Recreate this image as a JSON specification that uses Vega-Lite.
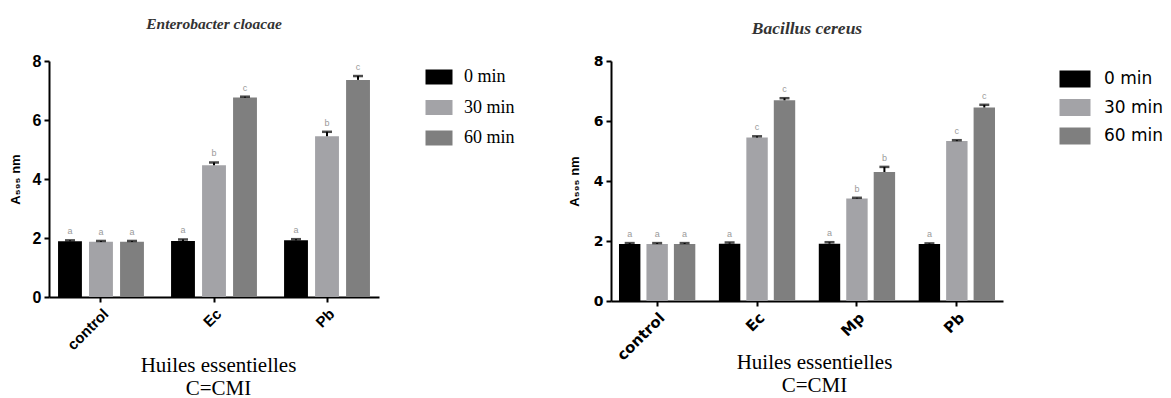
{
  "$schema": "https://vega.github.io/schema/vega-lite/v6.json",
  "background": "white",
  "padding": {"left": 9, "top": 17, "right": 0, "bottom": 0},
  "spacing": 53,
  "config": {
    "view": {"stroke": null},
    "axis": {"domainColor": "black", "domainWidth": 2, "tickColor": "black", "tickWidth": 2, "tickSize": 5, "grid": false, "labelColor": "black", "titleColor": "black"},
    "legend": {"padding": 0}
  },
  "resolve": {"scale": {"x": "independent", "y": "independent", "xOffset": "independent", "color": "independent"}, "legend": {"color": "independent"}},
  "hconcat": [
    {
      "width": 330,
      "height": 236,
      "title": {"text": "Enterobacter cloacae", "font": "Liberation Serif", "fontStyle": "italic", "fontWeight": "bold", "fontSize": 15.5, "color": "#333333", "offset": 20.5},
      "data": {"values": [
        {"oil": "control", "time": "0 min", "v": 1.89, "hi": 1.92, "lab": "a"},
        {"oil": "control", "time": "30 min", "v": 1.87, "hi": 1.9, "lab": "a"},
        {"oil": "control", "time": "60 min", "v": 1.87, "hi": 1.9, "lab": "a"},
        {"oil": "Ec", "time": "0 min", "v": 1.9, "hi": 1.95, "lab": "a"},
        {"oil": "Ec", "time": "30 min", "v": 4.47, "hi": 4.56, "lab": "b"},
        {"oil": "Ec", "time": "60 min", "v": 6.76, "hi": 6.79, "lab": "c"},
        {"oil": "Pb", "time": "0 min", "v": 1.92, "hi": 1.96, "lab": "a"},
        {"oil": "Pb", "time": "30 min", "v": 5.45, "hi": 5.6, "lab": "b"},
        {"oil": "Pb", "time": "60 min", "v": 7.36, "hi": 7.49, "lab": "c"}
      ]},
      "encoding": {
        "x": {"field": "oil", "type": "nominal", "sort": ["control", "Ec", "Pb"],
          "scale": {"paddingInner": 0.24, "paddingOuter": 0.08},
          "axis": {"labelAngle": -45, "labelFont": "Liberation Sans", "labelFontWeight": "bold", "labelFontSize": 15, "labelPadding": 4,
            "title": ["Huiles essentielles", "C=CMI"], "titleFont": "Liberation Serif", "titleFontWeight": "normal", "titleFontSize": 21, "titleLineHeight": 23, "titleBaseline": "top", "titleY": 57, "titleX": 169}},
        "xOffset": {"field": "time", "type": "nominal", "sort": ["0 min", "30 min", "60 min"], "scale": {"paddingInner": 0.23}}
      },
      "layer": [
        {
          "mark": {"type": "bar"},
          "encoding": {
            "y": {"field": "v", "type": "quantitative", "title": "A₅₉₅ nm", "scale": {"domain": [0, 8], "nice": false},
              "axis": {"values": [0, 2, 4, 6, 8], "labelFont": "Liberation Sans", "labelFontWeight": "bold", "labelFontSize": 16, "labelPadding": 3, "titleFont": "Liberation Sans", "titleFontSize": 13, "titleFontWeight": "bold", "titlePadding": 10}},
            "color": {"field": "time", "type": "nominal", "sort": ["0 min", "30 min", "60 min"],
              "scale": {"domain": ["0 min", "30 min", "60 min"], "range": ["#000000", "#a3a3a7", "#7f7f7f"]},
              "legend": {"orient": "none", "legendX": 380, "legendY": 6, "title": null,
                "symbolType": "M-1.35,-0.75L1.35,-0.75L1.35,0.75L-1.35,0.75Z", "symbolSize": 400, "symbolStrokeWidth": 0,
                "labelFont": "Liberation Serif", "labelFontSize": 18, "labelColor": "black", "rowPadding": 11.5, "labelOffset": 15}}
          }
        },
        {
          "mark": {"type": "rule", "color": "black", "strokeWidth": 2},
          "encoding": {"y": {"field": "v", "type": "quantitative", "title": "A₅₉₅ nm"}, "y2": {"field": "hi"}}
        },
        {
          "mark": {"type": "tick", "color": "black", "thickness": 2.5, "size": 10, "orient": "horizontal"},
          "encoding": {"y": {"field": "hi", "type": "quantitative", "title": "A₅₉₅ nm"}}
        },
        {
          "mark": {"type": "text", "font": "Liberation Sans", "fontSize": 9, "color": "#9a9a9a", "baseline": "bottom", "dy": -4},
          "encoding": {"y": {"field": "hi", "type": "quantitative", "title": "A₅₉₅ nm"}, "text": {"field": "lab"}}
        }
      ]
    },
    {
      "width": 392,
      "height": 240,
      "title": {"text": "Bacillus cereus", "font": "Liberation Serif", "fontStyle": "italic", "fontWeight": "bold", "fontSize": 17.5, "color": "#333333", "offset": 16.5},
      "data": {"values": [
        {"oil": "control", "time": "0 min", "v": 1.9, "hi": 1.93, "lab": "a"},
        {"oil": "control", "time": "30 min", "v": 1.9, "hi": 1.93, "lab": "a"},
        {"oil": "control", "time": "60 min", "v": 1.9, "hi": 1.93, "lab": "a"},
        {"oil": "Ec", "time": "0 min", "v": 1.91, "hi": 1.95, "lab": "a"},
        {"oil": "Ec", "time": "30 min", "v": 5.45, "hi": 5.49, "lab": "c"},
        {"oil": "Ec", "time": "60 min", "v": 6.69, "hi": 6.76, "lab": "c"},
        {"oil": "Mp", "time": "0 min", "v": 1.91, "hi": 1.96, "lab": "a"},
        {"oil": "Mp", "time": "30 min", "v": 3.42, "hi": 3.44, "lab": "b"},
        {"oil": "Mp", "time": "60 min", "v": 4.3, "hi": 4.47, "lab": "b"},
        {"oil": "Pb", "time": "0 min", "v": 1.9, "hi": 1.92, "lab": "a"},
        {"oil": "Pb", "time": "30 min", "v": 5.33, "hi": 5.36, "lab": "c"},
        {"oil": "Pb", "time": "60 min", "v": 6.45, "hi": 6.54, "lab": "c"}
      ]},
      "encoding": {
        "x": {"field": "oil", "type": "nominal", "sort": ["control", "Ec", "Mp", "Pb"],
          "scale": {"paddingInner": 0.236, "paddingOuter": 0.08},
          "axis": {"labelAngle": -45, "labelFont": "DejaVu Sans", "labelFontWeight": "bold", "labelFontSize": 15, "labelPadding": 4,
            "title": ["Huiles essentielles", "C=CMI"], "titleFont": "Liberation Serif", "titleFontWeight": "normal", "titleFontSize": 21, "titleLineHeight": 23, "titleBaseline": "top", "titleY": 50, "titleX": 203}},
        "xOffset": {"field": "time", "type": "nominal", "sort": ["0 min", "30 min", "60 min"], "scale": {"paddingInner": 0.22}}
      },
      "layer": [
        {
          "mark": {"type": "bar"},
          "encoding": {
            "y": {"field": "v", "type": "quantitative", "title": "A₅₉₅ nm", "scale": {"domain": [0, 8], "nice": false},
              "axis": {"values": [0, 2, 4, 6, 8], "labelFont": "DejaVu Sans", "labelFontWeight": "bold", "labelFontSize": 14, "labelPadding": 3, "titleFont": "Liberation Sans", "titleFontSize": 13, "titleFontWeight": "bold", "titlePadding": 12}},
            "color": {"field": "time", "type": "nominal", "sort": ["0 min", "30 min", "60 min"],
              "scale": {"domain": ["0 min", "30 min", "60 min"], "range": ["#000000", "#a3a3a7", "#7f7f7f"]},
              "legend": {"orient": "none", "legendX": 454, "legendY": 8, "title": null,
                "symbolType": "M-1.55,-0.85L1.55,-0.85L1.55,0.85L-1.55,0.85Z", "symbolSize": 400, "symbolStrokeWidth": 0,
                "labelFont": "DejaVu Sans", "labelFontSize": 17, "labelColor": "black", "rowPadding": 9.5, "labelOffset": 19}}
          }
        },
        {
          "mark": {"type": "rule", "color": "black", "strokeWidth": 2},
          "encoding": {"y": {"field": "v", "type": "quantitative", "title": "A₅₉₅ nm"}, "y2": {"field": "hi"}}
        },
        {
          "mark": {"type": "tick", "color": "black", "thickness": 2.5, "size": 10, "orient": "horizontal"},
          "encoding": {"y": {"field": "hi", "type": "quantitative", "title": "A₅₉₅ nm"}}
        },
        {
          "mark": {"type": "text", "font": "Liberation Sans", "fontSize": 9, "color": "#9a9a9a", "baseline": "bottom", "dy": -4},
          "encoding": {"y": {"field": "hi", "type": "quantitative", "title": "A₅₉₅ nm"}, "text": {"field": "lab"}}
        }
      ]
    }
  ]
}
